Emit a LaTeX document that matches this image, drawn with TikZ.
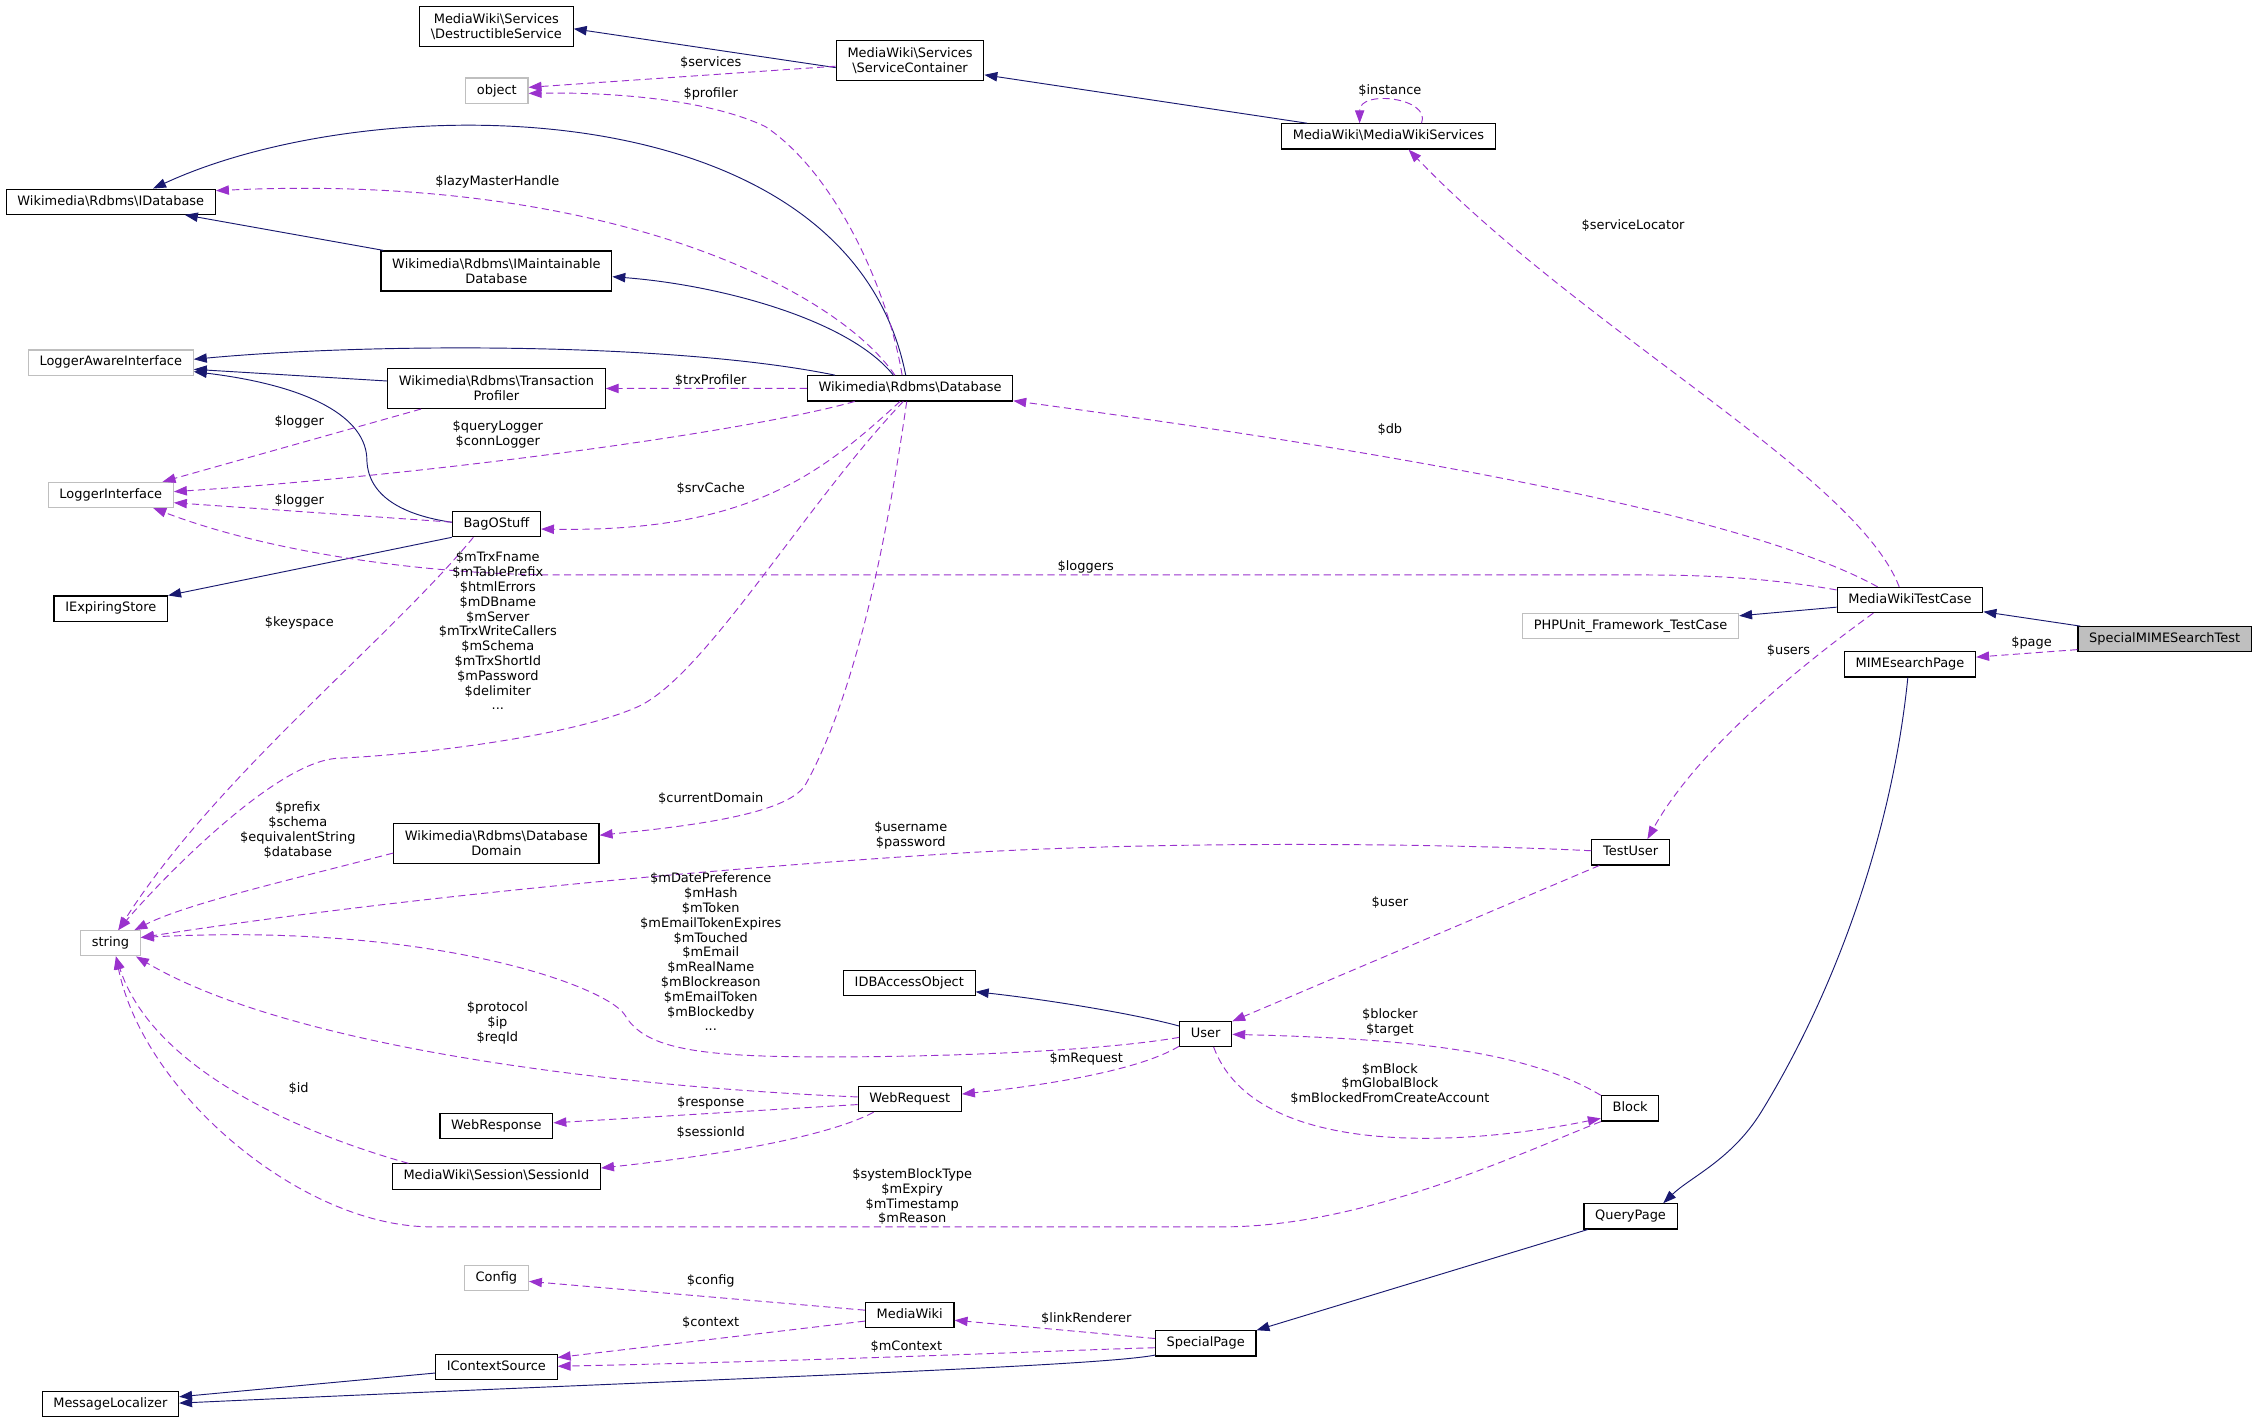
\documentclass[tikz,border=0pt]{standalone}
\usepackage{fontspec}
\setmainfont{DejaVu Sans}
\usepackage{xcolor}
\usepackage{tikz}
\usetikzlibrary{arrows.meta}
\definecolor{inhblue}{HTML}{191970}
\definecolor{useviolet}{HTML}{9A32CD}
\definecolor{grey75}{HTML}{BFBFBF}
\newcommand{\dotfont}{\fontsize{9}{10.3}\selectfont}

\begin{document}
\begin{tikzpicture}[x=1pt,y=-1pt,
    cls/.style={draw=black,line width=.8pt,fill=white,font=\dotfont,inner xsep=7.8pt,inner ysep=4.5pt,text height=6.6pt,text depth=1.9pt},
    clstwo/.style={draw=black,line width=.8pt,fill=white,font=\dotfont,inner xsep=7.8pt,inner ysep=0pt,align=center,minimum height=27.8pt},
    undoc/.style={draw=grey75},
    self/.style={fill=grey75},
    inh/.style={draw=inhblue,line width=.65pt,-{Triangle[length=9pt,width=6.5pt]}},
    use/.style={draw=useviolet,line width=.65pt,dash pattern=on 5pt off 3pt,-{Triangle[length=9pt,width=6.5pt]}},
    lbl/.style={font=\dotfont,align=center,inner sep=0pt}]
  \useasboundingbox (0,0) rectangle (1568,989);

  % classes
  \node[clstwo] (dsvc) at (345,18.3) {MediaWiki\textbackslash Services\\\textbackslash DestructibleService};
  \node[clstwo] (svc) at (632.5,42) {MediaWiki\textbackslash Services\\\textbackslash ServiceContainer};
  \node[cls,undoc] (obj) at (345.3,63) {object};
  \node[cls] (mws) at (965,94.8) {MediaWiki\textbackslash MediaWikiServices};
  \node[cls] (idb) at (77,140.2) {Wikimedia\textbackslash Rdbms\textbackslash IDatabase};
  \node[clstwo] (imdb) at (345,188.3) {Wikimedia\textbackslash Rdbms\textbackslash IMaintainable\\Database};
  \node[cls,undoc] (lai) at (77,252) {LoggerAwareInterface};
  \node[clstwo] (trx) at (345,270) {Wikimedia\textbackslash Rdbms\textbackslash Transaction\\Profiler};
  \node[cls] (db) at (632.5,269.9) {Wikimedia\textbackslash Rdbms\textbackslash Database};
  \node[cls,undoc] (li) at (77,344) {LoggerInterface};
  \node[cls] (bag) at (345,364.3) {BagOStuff};
  \node[cls] (ies) at (77,423) {IExpiringStore};
  \node[cls] (mwtc) at (1327.5,417) {MediaWikiTestCase};
  \node[cls,undoc] (php) at (1133.3,435) {PHPUnit\_Framework\_TestCase};
  \node[cls,self] (smst) at (1504.5,444.3) {SpecialMIMESearchTest};
  \node[cls] (msp) at (1327.5,461.8) {MIMEsearchPage};
  \node[clstwo] (dd) at (345,586) {Wikimedia\textbackslash Rdbms\textbackslash Database\\Domain};
  \node[cls] (tu) at (1133.3,592.4) {TestUser};
  \node[cls,undoc] (str) at (76.8,655.6) {string};
  \node[cls] (idbao) at (632,683.4) {IDBAccessObject};
  \node[cls] (usr) at (838,718.5) {User};
  \node[cls] (wreq) at (632.3,763.9) {WebRequest};
  \node[cls] (wresp) at (345,782.4) {WebResponse};
  \node[cls] (blk) at (1133,770.4) {Block};
  \node[cls] (sid) at (345,817.7) {MediaWiki\textbackslash Session\textbackslash SessionId};
  \node[cls] (qp) at (1133.3,845.4) {QueryPage};
  \node[cls,undoc] (cfg) at (345,888.2) {Config};
  \node[cls] (mw) at (632.3,914.1) {MediaWiki};
  \node[cls] (sp) at (838,933.7) {SpecialPage};
  \node[cls] (ics) at (345,950.2) {IContextSource};
  \node[cls] (ml) at (76.7,976) {MessageLocalizer};

  % inheritance
  \draw[inh] ([yshift=-5pt]svc.west) -- ([yshift=-1.7pt]dsvc.east);
  \draw[inh] ([xshift=-56.5pt]mws.north) -- ([yshift=-10pt]svc.east);
  \draw[inh] ([xshift=-3pt]db.north) .. controls (590,60) and (260,60) .. ([xshift=29.4pt]idb.north);
  \draw[inh] ([xshift=2pt]imdb.north west) -- ([xshift=51.5pt]idb.south);
  \draw[inh] ([xshift=-11.6pt]db.north) .. controls (590,222) and (500,198) .. ([yshift=-4pt]imdb.east);
  \draw[inh] ([xshift=19.6pt]db.north west) .. controls (470,238) and (260,238) .. ([yshift=2.3pt]lai.east);
  \draw[inh] ([yshift=5.2pt]trx.west) -- ([yshift=-4.7pt]lai.east);
  \draw[inh] ([yshift=1.3pt]bag.west) .. controls (280,358) and (256,345) .. (255,320)
    .. controls (255,290) and (215,268) .. ([yshift=-6.3pt]lai.east);
  \draw[inh] (bag.south west) -- (ies.north east);
  \draw[inh] ([xshift=2pt]smst.north west) -- ([yshift=1pt]mwtc.south east);
  \draw[inh] ([yshift=-5pt]mwtc.west) -- ([yshift=7pt]php.east);
  \draw[inh] ([xshift=-1.5pt]msp.south) .. controls (1315,580) and (1275,690) .. (1224,773)
    .. controls (1203.6,806) and (1175,818) .. ([xshift=22.7pt]qp.north);
  \draw[inh] ([xshift=3pt]qp.south west) -- (sp.north east);
  \draw[inh] ([yshift=5.4pt]usr.west) .. controls (790,705) and (730,695) .. ([yshift=-5.9pt]idbao.east);
  \draw[inh] ([yshift=-4.1pt]ics.west) -- ([yshift=5.2pt]ml.east);
  \draw[inh] ([yshift=1pt]sp.south west) .. controls (760,950) and (500,958) .. ([yshift=.8pt]ml.east);

  % usage
  \draw[use] ([yshift=-4pt]svc.west) -- ([yshift=2.3pt]obj.east);
  \draw[use] ([xshift=-5.5pt]db.north) .. controls (617,200) and (580,120) .. (532,88)
    .. controls (490,68) and (420,64) .. ([yshift=-1.9pt]obj.east);
  \draw[use] ([xshift=-10.5pt]db.north) .. controls (580,200) and (420,120) .. ([yshift=7.7pt]idb.east);
  \draw[use] ([xshift=23pt]mws.north) .. controls (995,68) and (945,62) .. ([xshift=-20pt]mws.north);
  \draw[use] ([xshift=-7.5pt]mwtc.north) .. controls (1290,330) and (1100,230) .. ([xshift=14pt]mws.south);
  \draw[use] ([xshift=-22.5pt]mwtc.north) .. controls (1200,350) and (900,305) .. ([yshift=.5pt]db.south east);
  \draw[use] ([yshift=7pt]mwtc.west) .. controls (1230,402) and (1190,399.6) .. (1140,399.6) -- (390,399.6)
    .. controls (300,399.6) and (190,385) .. ([xshift=29.5pt]li.south);
  \draw[use] ([xshift=-52.4pt]trx.south) -- ([xshift=36pt]li.north);
  \draw[use] ([xshift=-38.5pt]db.south) .. controls (520,300) and (300,330) .. ([yshift=2.3pt]li.east);
  \draw[use] ([yshift=1.4pt]bag.west) -- ([yshift=-5.4pt]li.east);
  \draw[use] (db.west) -- (trx.east);
  \draw[use] ([xshift=-7pt]db.south) .. controls (570,330) and (520,370) .. ([yshift=-3.4pt]bag.east);
  \draw[use] ([xshift=-16pt]bag.south) .. controls (270,445) and (150,540) .. ([xshift=5.4pt]str.north);
  \draw[use] ([xshift=-4.7pt]db.south) .. controls (560,350) and (490,470) .. (443.3,491.2)
    .. controls (401,510.3) and (300,524) .. (235,527)
    .. controls (190,529) and (107,617) .. ([xshift=5.4pt]str.north);
  \draw[use] ([xshift=-2.3pt]db.south) .. controls (610,420) and (585,500) .. (560,545)
    .. controls (548,567) and (470,575) .. ([yshift=5.5pt]dd.east);
  \draw[use] ([yshift=-6.9pt]dd.west) .. controls (200,612) and (130,628) .. ([xshift=16.6pt]str.north);
  \draw[use] ([yshift=1.1pt]tu.west) .. controls (1000,586) and (800,584) .. (650,594)
    .. controls (450,607) and (250,628) .. ([yshift=4pt]str.east);
  \draw[use] ([yshift=-2.5pt]usr.west) .. controls (750,733) and (600,736) .. (531.8,734)
    .. controls (470,732) and (445,724) .. (434,705)
    .. controls (420,685) and (300,641) .. ([yshift=4pt]str.east);
  \draw[use] ([yshift=1.5pt]wreq.west) .. controls (420,755) and (200,727) .. ([xshift=17.7pt]str.south);
  \draw[use] ([xshift=11.6pt]sid.north west) .. controls (200,785) and (105,740) .. ([xshift=3.8pt]str.south);
  \draw[use] (blk.south west) .. controls (1060,800) and (950,852.7) .. (850,852.7) -- (300,852.7)
    .. controls (210,852.7) and (100,760) .. ([xshift=3.8pt]str.south);
  \draw[use] ([yshift=.5pt]usr.south west) .. controls (790,745) and (720,755) .. ([yshift=3.5pt]wreq.east);
  \draw[use] ([yshift=-3.8pt]wreq.west) -- ([yshift=2pt]wresp.east);
  \draw[use] ([xshift=-25.1pt]wreq.south) .. controls (575,790) and (500,803) .. ([yshift=5.9pt]sid.east);
  \draw[use] ([xshift=-25.5pt]mwtc.south) .. controls (1255,460) and (1180,520) .. ([xshift=11.7pt]tu.north);
  \draw[use] ([xshift=5.6pt]tu.south west) -- ([yshift=-.5pt]usr.north east);
  \draw[use] (blk.north west) .. controls (1060,730) and (980,722) .. ([yshift=-.4pt]usr.east);
  \draw[use] ([xshift=5.5pt]usr.south) .. controls (870,800) and (1000,800) .. ([yshift=-6.9pt]blk.west);
  \draw[use] ([yshift=-7.2pt]smst.west) -- ([yshift=5.1pt]msp.east);
  \draw[use] ([yshift=3.5pt]mw.west) -- ([yshift=-2.4pt]cfg.east);
  \draw[use] ([yshift=-4.1pt]mw.west) -- ([yshift=6.7pt]ics.east);
  \draw[use] ([yshift=-3pt]sp.west) .. controls (750,938) and (600,945) .. ([yshift=.6pt]ics.east);
  \draw[use] ([yshift=3.4pt]sp.west) -- ([yshift=-3.5pt]mw.east);

  % member labels
  \node[lbl] (lserv) at (494,43.6) {\$services};
  \node[lbl] (lprof) at (494,65) {\$profiler};
  \node[lbl] (llazy) at (345.7,126.3) {\$lazyMasterHandle};
  \node[lbl] (linst) at (966,63) {\$instance};
  \node[lbl] (lloc) at (1135,157) {\$serviceLocator};
  \node[lbl] (ltrx) at (494,264.6) {\$trxProfiler};
  \node[lbl] (llogtrx) at (208,293) {\$logger};
  \node[lbl] (lqlog) at (346,301.8) {\$queryLogger\\\$connLogger};
  \node[lbl] (ldb) at (966,298.5) {\$db};
  \node[lbl] (lsrv) at (494,339.7) {\$srvCache};
  \node[lbl] (llogbag) at (208,348) {\$logger};
  \node[lbl] (lloggers) at (754.6,394) {\$loggers};
  \node[lbl] (lkey) at (208,433) {\$keyspace};
  \node[lbl] (ldbfields) at (346,438.5) {\$mTrxFname\\\$mTablePrefix\\\$htmlErrors\\\$mDBname\\\$mServer\\\$mTrxWriteCallers\\\$mSchema\\\$mTrxShortId\\\$mPassword\\\$delimiter\\...};
  \node[lbl] (lpage) at (1412,446.8) {\$page};
  \node[lbl] (lusers) at (1243,452.4) {\$users};
  \node[lbl] (ldomain) at (494,555.3) {\$currentDomain};
  \node[lbl] (lprefix) at (207,577) {\$prefix\\\$schema\\\$equivalentString\\\$database};
  \node[lbl] (lname) at (633,580.8) {\$username\\\$password};
  \node[lbl] (luser) at (966,627.5) {\$user};
  \node[lbl] (lusrfields) at (494,661.6) {\$mDatePreference\\\$mHash\\\$mToken\\\$mEmailTokenExpires\\\$mTouched\\\$mEmail\\\$mRealName\\\$mBlockreason\\\$mEmailToken\\\$mBlockedby\\...};
  \node[lbl] (lblocker) at (966,710.5) {\$blocker\\\$target};
  \node[lbl] (lproto) at (345.7,711) {\$protocol\\\$ip\\\$reqId};
  \node[lbl] (lreq) at (755,735.8) {\$mRequest};
  \node[lbl] (lblock) at (966,753.3) {\$mBlock\\\$mGlobalBlock\\\$mBlockedFromCreateAccount};
  \node[lbl] (lid) at (207.5,756.9) {\$id};
  \node[lbl] (lresp) at (494,766.3) {\$response};
  \node[lbl] (lsess) at (494,787.1) {\$sessionId};
  \node[lbl] (lsys) at (634,831.8) {\$systemBlockType\\\$mExpiry\\\$mTimestamp\\\$mReason};
  \node[lbl] (lcfg) at (494,890.6) {\$config};
  \node[lbl] (llink) at (755,916.2) {\$linkRenderer};
  \node[lbl] (lctx) at (494,919.1) {\$context};
  \node[lbl] (lmctx) at (630,935.9) {\$mContext};
\end{tikzpicture}
\end{document}
